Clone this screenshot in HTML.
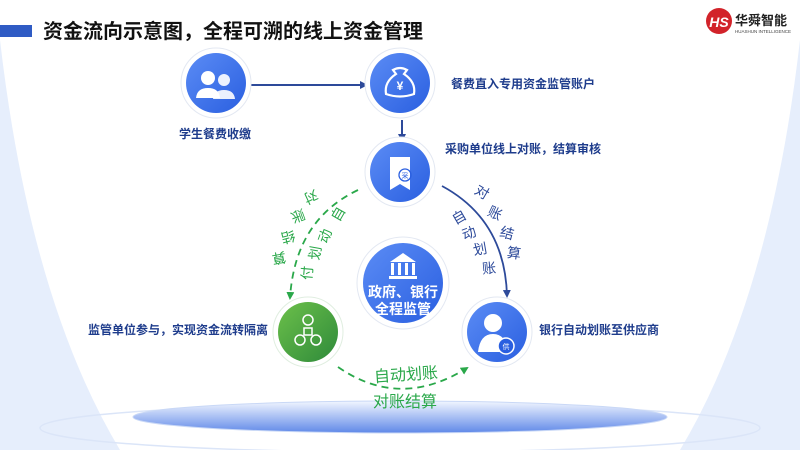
<!DOCTYPE html>
<html><head><meta charset="utf-8"><style>
html,body{margin:0;padding:0;background:#fff;}
svg{display:block;font-family:"Liberation Sans","Noto Sans CJK SC",sans-serif;}
</style></head><body>
<svg width="800" height="450" viewBox="0 0 800 450" xmlns="http://www.w3.org/2000/svg">
<defs>
<linearGradient id="bl" x1="0" y1="0" x2="1" y2="1"><stop offset="0" stop-color="#5b8cf5"/><stop offset="1" stop-color="#2a5fe0"/></linearGradient>
<linearGradient id="gr" x1="0" y1="0" x2="1" y2="1"><stop offset="0" stop-color="#6cc04a"/><stop offset="1" stop-color="#2e8a3a"/></linearGradient>
<linearGradient id="pl" x1="0" y1="0" x2="0" y2="1"><stop offset="0" stop-color="#f2f6ff"/><stop offset="1" stop-color="#5f88e8"/></linearGradient>
<marker id="ab" markerWidth="8" markerHeight="8" refX="6" refY="4" orient="auto" markerUnits="userSpaceOnUse"><path d="M0,0 L8,4 L0,8 z" fill="#2d4a9a"/></marker>
<marker id="ag" markerWidth="8" markerHeight="8" refX="6" refY="4" orient="auto" markerUnits="userSpaceOnUse"><path d="M0,0 L8,4 L0,8 z" fill="#2aa84a"/></marker>
</defs>
<rect width="800" height="450" fill="#fff"/>
<path d="M0,40 Q30,300 120,450 L0,450 z" fill="#e6eefc"/>
<path d="M800,40 Q770,300 680,450 L800,450 z" fill="#e6eefc"/>
<!-- title -->
<rect x="0" y="25" width="32" height="12" fill="#2f5bc4"/>
<text x="43" y="38" font-size="20" font-weight="bold" fill="#111">资金流向示意图，全程可溯的线上资金管理</text>
<!-- logo -->
<circle cx="719" cy="21" r="13" fill="#d2232a"/>
<text x="719" y="27" font-size="14" font-weight="bold" font-style="italic" fill="#fff" text-anchor="middle">HS</text>
<text x="735" y="25" font-size="13" font-weight="bold" fill="#222">华舜智能</text>
<text x="735" y="33" font-size="4.5" fill="#444">HUASHUN INTELLIGENCE</text>
<!-- platform -->
<ellipse cx="400" cy="428" rx="360" ry="24" fill="none" stroke="#dbe5f8" stroke-width="1.5"/>
<ellipse cx="400" cy="417" rx="267" ry="16" fill="url(#pl)" stroke="#c9d8f6"/>
<!-- connectors -->
<line x1="250" y1="85" x2="366" y2="85" stroke="#2d4a9a" stroke-width="2" marker-end="url(#ab)"/>
<line x1="402" y1="120" x2="402" y2="140" stroke="#2d4a9a" stroke-width="2" marker-end="url(#ab)"/>
<path d="M358,190 Q295,220 290,298" stroke="#2aa84a" stroke-width="1.8" stroke-dasharray="7,5" fill="none" marker-end="url(#ag)"/>
<path d="M442,186 Q505,220 507,296" stroke="#2d4a9a" stroke-width="1.8" fill="none" marker-end="url(#ab)"/>
<path d="M338,367 Q400,410 467,368" stroke="#2aa84a" stroke-width="1.8" stroke-dasharray="7,5" fill="none" marker-end="url(#ag)"/>
<!-- nodes -->
<g>
<circle cx="216" cy="83" r="35" fill="#fff" stroke="#e3e8f2"/><circle cx="216" cy="83" r="30" fill="url(#bl)"/>
<circle cx="208" cy="78" r="7" fill="#fff"/><path d="M196,98 Q197,88 208,88 Q219,88 220,98z" fill="#fff"/>
<circle cx="224" cy="80" r="6" fill="#fff" opacity="0.9"/><path d="M213,99 Q214,90 224,90 Q234,90 235,99z" fill="#fff" opacity="0.9"/>
<circle cx="400" cy="83" r="35" fill="#fff" stroke="#e3e8f2"/><circle cx="400" cy="83" r="30" fill="url(#bl)"/>
<path d="M393,70 Q400,66 407,70 L404,74 Q416,82 414,94 Q400,99 386,94 Q384,82 396,74z" fill="none" stroke="#fff" stroke-width="2.2"/>
<text x="400" y="90" font-size="12" font-weight="bold" fill="#fff" text-anchor="middle">¥</text>
<circle cx="400" cy="172" r="35" fill="#fff" stroke="#e3e8f2"/><circle cx="400" cy="172" r="30" fill="url(#bl)"/>
<path d="M390,157 L410,157 L410,190 L400,184 L390,190z" fill="#fff"/>
<circle cx="405" cy="175" r="6" fill="none" stroke="#2a5fe0" stroke-width="1.3"/><text x="405" y="178" font-size="7" fill="#2a5fe0" text-anchor="middle">采</text>
<circle cx="403" cy="283" r="46" fill="#fff" stroke="#e3e8f2"/><circle cx="403" cy="283" r="40" fill="url(#bl)"/>
<path d="M390,262 L403,253 L416,262z" fill="#fff"/><rect x="391" y="263" width="3" height="12" fill="#fff"/><rect x="398" y="263" width="3" height="12" fill="#fff"/><rect x="405" y="263" width="3" height="12" fill="#fff"/><rect x="412" y="263" width="3" height="12" fill="#fff"/><rect x="389" y="276" width="28" height="3" fill="#fff"/>
<text x="403" y="297" font-size="14" font-weight="bold" fill="#fff" text-anchor="middle">政府、银行</text>
<text x="403" y="314" font-size="14" font-weight="bold" fill="#fff" text-anchor="middle">全程监管</text>
<circle cx="308" cy="332" r="35" fill="#fff" stroke="#e0eee0"/><circle cx="308" cy="332" r="30" fill="url(#gr)"/>
<g fill="none" stroke="#fff" stroke-width="1.5"><circle cx="308" cy="320" r="5"/><circle cx="300" cy="340" r="5"/><circle cx="316" cy="340" r="5"/><rect x="304" y="328" width="8" height="7"/></g>
<circle cx="497" cy="332" r="35" fill="#fff" stroke="#e3e8f2"/><circle cx="497" cy="332" r="30" fill="url(#bl)"/>
<circle cx="493" cy="323" r="9" fill="#fff"/><path d="M478,352 Q480,334 493,334 Q506,334 508,352z" fill="#fff"/>
<circle cx="506" cy="346" r="8" fill="#2a5fe0" stroke="#fff" stroke-width="1.5"/><text x="506" y="349" font-size="7" fill="#fff" text-anchor="middle">供</text>
</g>
<!-- labels -->
<g font-size="12" font-weight="bold" fill="#1e3c8c">
<text x="215" y="138" text-anchor="middle">学生餐费收缴</text>
<text x="451" y="88">餐费直入专用资金监管账户</text>
<text x="445" y="153">采购单位线上对账，结算审核</text>
<text x="268" y="334" text-anchor="end">监管单位参与，实现资金流转隔离</text>
<text x="539" y="334">银行自动划账至供应商</text>
</g>
<g font-size="14" fill="#2aa84a" text-anchor="middle">
<text transform="translate(311,197) rotate(155)" dy="5">对</text>
<text transform="translate(298,216) rotate(160)" dy="5">账</text>
<text transform="translate(288,237) rotate(165)" dy="5">结</text>
<text transform="translate(279,258) rotate(170)" dy="5">算</text>
<text transform="translate(338,214) rotate(-60)" dy="5">自</text>
<text transform="translate(325,236) rotate(-70)" dy="5">动</text>
<text transform="translate(315,253) rotate(-80)" dy="5">划</text>
<text transform="translate(307,273) rotate(-85)" dy="5">付</text>
<text x="406" y="380" font-size="16" transform="rotate(-4 406 375)">自动划账</text>
<text x="405" y="407" font-size="16">对账结算</text>
</g>
<g font-size="14" fill="#2d4a9a" text-anchor="middle">
<text transform="translate(482,192) rotate(30)" dy="5">对</text>
<text transform="translate(495,213) rotate(25)" dy="5">账</text>
<text transform="translate(507,233) rotate(15)" dy="5">结</text>
<text transform="translate(514,253) rotate(8)" dy="5">算</text>
<text transform="translate(459,217) rotate(-30)" dy="5">自</text>
<text transform="translate(469,233) rotate(-20)" dy="5">动</text>
<text transform="translate(480,249) rotate(-10)" dy="5">划</text>
<text transform="translate(489,268) rotate(-5)" dy="5">账</text>
</g>
</svg>
</body></html>
